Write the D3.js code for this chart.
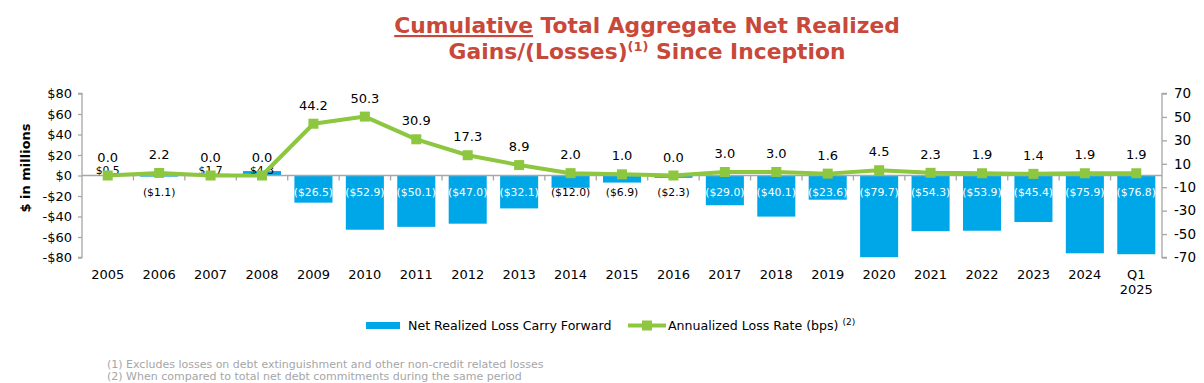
<!DOCTYPE html>
<html><head><meta charset="utf-8">
<script src="https://cdn.jsdelivr.net/npm/d3@7/dist/d3.min.js"></script>
<style>
html,body{margin:0;padding:0;background:#fff;}
svg{display:block;font-family:"DejaVu Sans",Verdana,sans-serif;}
</style></head>
<body>
<svg id="chart" width="1204" height="383"></svg>
<script>
const categories = ["2005","2006","2007","2008","2009","2010","2011","2012","2013","2014","2015","2016","2017","2018","2019","2020","2021","2022","2023","2024","Q1 2025"];
const carryForward = [0.5,-1.1,1.7,4.3,-26.5,-52.9,-50.1,-47.0,-32.1,-12.0,-6.9,-2.3,-29.0,-40.1,-23.6,-79.7,-54.3,-53.9,-45.4,-75.9,-76.8];
const lossRate = [0.0,2.2,0.0,0.0,44.2,50.3,30.9,17.3,8.9,2.0,1.0,0.0,3.0,3.0,1.6,4.5,2.3,1.9,1.4,1.9,1.9];
const leftTicks = [-80,-60,-40,-20,0,20,40,60,80];
const rightTicks = [-70,-50,-30,-10,10,30,50,70];

const svg = d3.select("#chart");
const BLUE = "#00A7E8", GREEN = "#8DC63F", AXIS = "#a6a6a6", RED = "#C8483A";

const x = d3.scaleBand().domain(categories).range([82,1162]).paddingInner(0.26).paddingOuter(0.13);
const yL = d3.scaleLinear().domain([-80,80]).range([257.5,93.5]);
const yR = d3.scaleLinear().domain([-70,70]).range([257.5,93.5]);

// Title
const t = svg.append("text").attr("x",647).attr("y",33).attr("text-anchor","middle")
  .attr("font-weight","bold").attr("font-size",21.8).attr("fill",RED);
t.append("tspan").attr("text-decoration","underline").text("Cumulative");
t.append("tspan").text(" Total Aggregate Net Realized");
const t2 = svg.append("text").attr("x",647).attr("y",59).attr("text-anchor","middle")
  .attr("font-weight","bold").attr("font-size",21.8).attr("fill",RED);
t2.append("tspan").text("Gains/(Losses)");
t2.append("tspan").attr("font-size",13).attr("dy",-8).text("(1)");
t2.append("tspan").attr("dy",8).text(" Since Inception");

// Bars
svg.append("g").selectAll("rect").data(carryForward).join("rect")
  .attr("x",(d,i)=>x(categories[i]))
  .attr("width",x.bandwidth())
  .attr("y",d=>yL(Math.max(0,d)))
  .attr("height",d=>Math.abs(yL(d)-yL(0)))
  .attr("fill",BLUE);

// Left axis
const gL = svg.append("g").attr("transform","translate(82,0)")
  .call(d3.axisLeft(yL).tickValues(leftTicks).tickSize(4).tickPadding(6)
    .tickFormat(d=> d<0 ? "-$"+Math.abs(d) : "$"+d));
gL.select(".domain").attr("stroke",AXIS).attr("stroke-width",1.3).attr("d","M-4,93.5H0V257.5H-4");
gL.selectAll(".tick line").attr("stroke",AXIS).attr("stroke-width",1.3);
gL.selectAll(".tick text").attr("font-size",13).attr("fill","#000").attr("font-family","DejaVu Sans, Verdana, sans-serif");

// Right axis
const gR = svg.append("g").attr("transform","translate(1162,0)")
  .call(d3.axisRight(yR).tickValues(rightTicks).tickSize(5).tickPadding(7).tickFormat(d=>String(d)));
gR.select(".domain").attr("stroke",AXIS).attr("stroke-width",1.3).attr("d","M5,93.5H0V257.5H5");
gR.selectAll(".tick line").attr("stroke",AXIS).attr("stroke-width",1.3);
gR.selectAll(".tick text").attr("font-size",13.5).attr("fill","#000").attr("font-family","DejaVu Sans, Verdana, sans-serif");

// X axis (at zero)
const y0 = yL(0);
const gX = svg.append("g");
gX.append("line").attr("x1",82).attr("x2",1162).attr("y1",y0).attr("y2",y0).attr("stroke",AXIS).attr("stroke-width",1.3);
const step = x.step();
gX.selectAll("line.tk").data(d3.range(1,categories.length)).join("line").attr("class","tk")
  .attr("x1",i=>82+i*step).attr("x2",i=>82+i*step).attr("y1",y0).attr("y2",y0+5)
  .attr("stroke",AXIS).attr("stroke-width",1.3);
// x labels
svg.append("g").selectAll("text").data(categories).join("text")
  .attr("x",d=>x(d)+x.bandwidth()/2).attr("y",279).attr("text-anchor","middle")
  .attr("font-size",13).attr("fill","#000")
  .each(function(d){
    const parts = d.split(" ");
    const s = d3.select(this);
    parts.forEach((p,j)=>s.append("tspan").attr("x",x(d)+x.bandwidth()/2).attr("dy",j?15:0).text(p));
  });

// Y label
svg.append("text").attr("transform","translate(30,168) rotate(-90)").attr("text-anchor","middle")
  .attr("font-size",13).attr("font-weight","bold").attr("fill","#000").text("$ in millions");

// Bar labels
const fmtM = v => v<0 ? "($"+Math.abs(v).toFixed(1)+")" : "$"+v.toFixed(1);
svg.append("g").selectAll("text").data(carryForward).join("text")
  .attr("x",(d,i)=>x(categories[i])+x.bandwidth()/2)
  .attr("y",d=> d<0 ? y0+20 : y0-2)
  .attr("text-anchor","middle").attr("font-size",10.8)
  .attr("fill",d=> d<=-20 ? "#fff" : "#000")
  .text(fmtM);

// Line
const cx = i => x(categories[i])+x.bandwidth()/2;
svg.append("path").datum(lossRate)
  .attr("d",d3.line().x((d,i)=>cx(i)).y(d=>yR(d)))
  .attr("fill","none").attr("stroke",GREEN).attr("stroke-width",4).attr("stroke-linejoin","round");
svg.append("g").selectAll("rect").data(lossRate).join("rect")
  .attr("x",(d,i)=>cx(i)-5).attr("y",d=>yR(d)-5).attr("width",10).attr("height",10).attr("fill",GREEN);
svg.append("g").selectAll("text").data(lossRate).join("text")
  .attr("x",(d,i)=>cx(i)).attr("y",d=>yR(d)-14).attr("text-anchor","middle")
  .attr("font-size",13).attr("fill","#000").text(d=>d.toFixed(1));

// Legend
const lg = svg.append("g");
lg.append("rect").attr("x",366).attr("y",322).attr("width",34).attr("height",7).attr("fill",BLUE);
lg.append("text").attr("x",408).attr("y",330).attr("font-size",12.6).attr("fill","#000").text("Net Realized Loss Carry Forward");
lg.append("line").attr("x1",628).attr("x2",666).attr("y1",325.5).attr("y2",325.5).attr("stroke",GREEN).attr("stroke-width",4);
lg.append("rect").attr("x",642).attr("y",320.5).attr("width",10).attr("height",10).attr("fill",GREEN);
const lt = lg.append("text").attr("x",668).attr("y",330).attr("font-size",12.6).attr("fill","#000");
lt.append("tspan").text("Annualized Loss Rate (bps) ");
lt.append("tspan").attr("font-size",9).attr("dy",-5).text("(2)");

// Footnotes
svg.append("text").attr("x",107).attr("y",368).attr("font-size",11).attr("fill","#a6a6a6")
  .text("(1) Excludes losses on debt extinguishment and other non-credit related losses");
svg.append("text").attr("x",107).attr("y",380).attr("font-size",11).attr("fill","#a6a6a6")
  .text("(2) When compared to total net debt commitments during the same period");
</script>
</body></html>
